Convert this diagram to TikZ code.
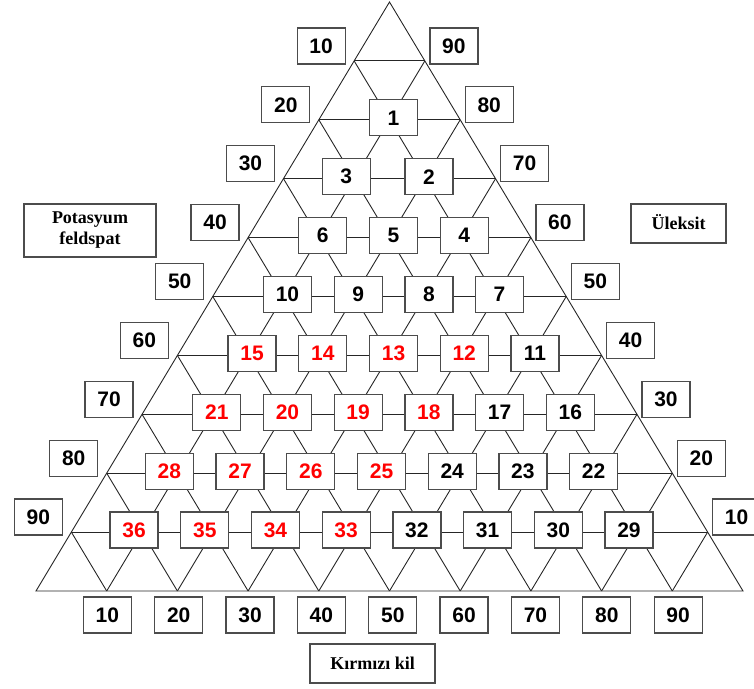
\documentclass[tikz,border=0pt]{standalone}
\usepackage{fontspec}
\setmainfont{Liberation Serif}
\setsansfont{Liberation Sans}
\usetikzlibrary{calc}
\tikzset{
  gridline/.style={black!85,line width=0.9pt},
  cell/.style={draw=black!70,line width=1.3pt,fill=white,minimum width=48pt,minimum height=36pt,inner sep=0pt,font=\sffamily\bfseries\fontsize{21}{24}\selectfont},
  corner/.style={draw=black!70,line width=1.3pt,fill=white,inner sep=0pt,align=center,font=\bfseries\fontsize{18}{21}\selectfont},
}
\begin{document}
\begin{tikzpicture}[x=1pt,y=1pt]
  \useasboundingbox (0,0) rectangle (754,688);
  % lattice points of the triangle, 10 steps per side
  \foreach \k in {0,...,10}{
    \foreach \i in {0,...,\k}{
      \coordinate (p-\k-\i) at ({389.5+(2*\i-\k)*35.35},{686-58.9*\k});
    }
  }
  % outer triangle and lines parallel to its sides
  \draw[gridline,line join=miter] (p-0-0) -- (p-10-0) -- (p-10-10) -- cycle;
  \foreach \k in {1,...,9}{
    \pgfmathtruncatemacro{\j}{10-\k}
    \draw[gridline] (p-\k-0) -- (p-\k-\k);
    \draw[gridline] (p-\k-\k) -- (p-10-\k);
    \draw[gridline] (p-\k-0) -- (p-10-\j);
  }
  % mixture boxes, numbered from right to left
  \foreach \k in {2,...,9}{
    \pgfmathtruncatemacro{\m}{\k-1}
    \foreach \i in {1,...,\m}{
      \pgfmathtruncatemacro{\n}{(\k-1)*(\k-2)/2+\k-\i}
      \pgfmathsetmacro{\dx}{(\k>7 || \n==3) ? -8 : 4}
      \def\col{black}
      \ifnum\k>5 \ifnum\i<5 \def\col{red}\fi\fi
      \node[cell,text=\col] (b\n) at ($(p-\k-\i)+(\dx,2)$) {\n};
    }
  }
  % scale values on the three sides
  \foreach \k in {1,...,9}{
    \pgfmathtruncatemacro{\lv}{10*\k}
    \pgfmathtruncatemacro{\rv}{100-10*\k}
    \node[cell] (l\lv) at ($(p-\k-0)+(-33,15)$) {\lv};
    \node[cell] (r\rv) at ($(p-\k-\k)+(29,15)$) {\rv};
    \node[cell] (d\lv) at ($(p-10-\k)+(0.65*\k,-24)$) {\lv};
  }
  % end members
  \node[corner,minimum width=132pt,minimum height=53pt] (kf) at (90,457.5) {Potasyum\\feldspat};
  \node[corner,minimum width=95pt,minimum height=39pt] (ul) at (678.5,464.5) {\raisebox{3pt}{Üleksit}};
  \node[corner,minimum width=125pt,minimum height=39pt] (kk) at (372.5,24.5) {Kırmızı kil};
\end{tikzpicture}
\end{document}
